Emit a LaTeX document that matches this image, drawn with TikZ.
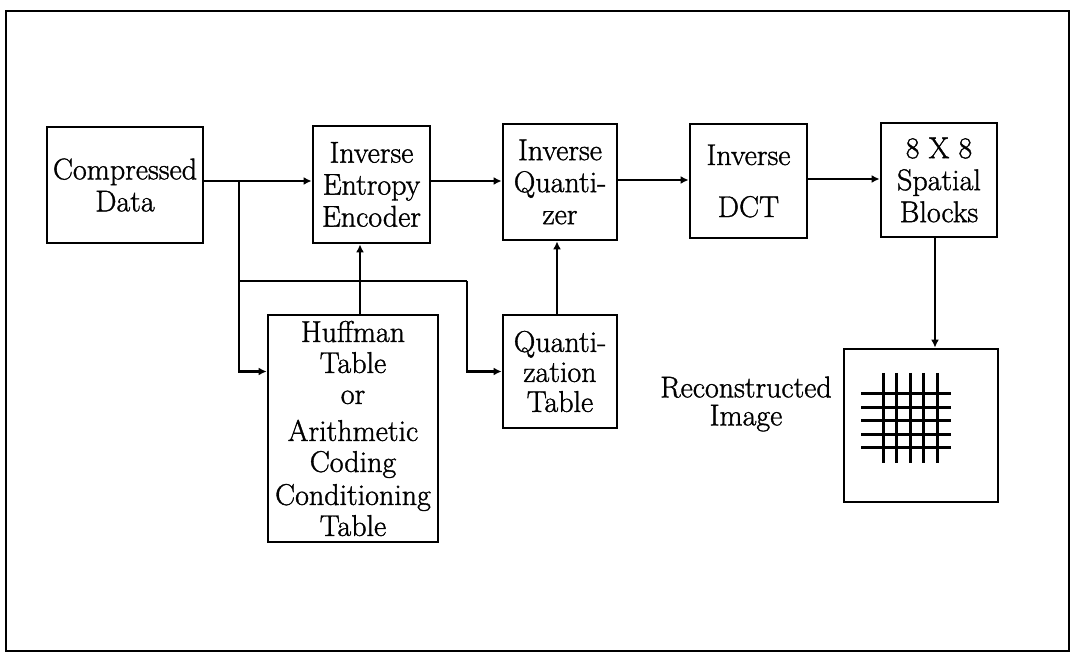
\documentclass[tikz,border=0pt]{standalone}
\usepackage{fontspec}
\usepackage{amsmath}
\usepackage{amssymb}
\usetikzlibrary{arrows.meta}
\newfontfamily\heavyrm[FakeBold=1.2]{Latin Modern Roman}

\tikzset{
  blk/.style={draw,line width=1.4pt,inner sep=0pt,align=center,
    font=\heavyrm\fontsize{15}{16}\selectfont},
  arr/.style={line width=1.2pt,-{Latex[length=4pt,width=4pt]}},
  wire/.style={line width=1.2pt}
}

\begin{document}
\begin{tikzpicture}[x=0.5pt,y=-0.5pt]
    \useasboundingbox (0,0) rectangle (1072,657);
    \draw[line width=1.4pt] (6,11) rectangle (1069,651);

    \node[blk,minimum width=78pt,minimum height=58pt] (cdata) at (125,185) {Compressed\\Data};
    \node[blk,minimum width=58.5pt,minimum height=58.5pt] (ient) at (371.5,184.5) {Inverse\\Entropy\\Encoder};
    \node[blk,minimum width=57pt,minimum height=58pt] (iquant) at (560,182) {Inverse\\Quanti-\\zer};
    \node[blk,minimum width=58.5pt,minimum height=57pt] (idct) at (748.5,181) {Inverse\\[10pt]DCT};
    \node[blk,minimum width=58pt,minimum height=57pt] (spat) at (939,180) {8 X 8\\Spatial\\Blocks};
    \node[blk,minimum width=85pt,minimum height=113.5pt,font=\heavyrm\fontsize{15}{15.5}\selectfont] (huff) at (353,428.5)
        {Huffman\\Table\\or\\[3pt]Arithmetic\\Coding\\[1pt]Conditioning\\Table};
    \node[blk,minimum width=57pt,minimum height=56.5pt,font=\heavyrm\fontsize{15}{15}\selectfont] (qtab) at (560,371.5) {Quanti-\\zation\\Table};
    \node[blk,minimum width=77pt,minimum height=76.5pt] (recon) at (921,425.5) {};
    \node[align=center,font=\heavyrm\fontsize{15}{14}\selectfont] (rlabel) at (746,404) {Reconstructed\\Image};

    % the 8x8 grid
    \foreach \i in {0,...,4} {
        \draw[line width=1.5pt] (883+13.5*\i,373) -- (883+13.5*\i,463);
        \draw[line width=1.5pt] (861,394+13.5*\i) -- (951,394+13.5*\i);
    }

    \coordinate (j1) at (239,181);
    \coordinate (j2) at (239,281);
    \coordinate (bend) at (467,281);

    \draw[arr] (cdata.east |- j1) -- (ient.west |- j1);
    \draw[arr] (j1) |- (huff.west |- qtab.west);
    \draw[wire] (j2) -- (bend);
    \draw[arr] (bend) |- (qtab.west);
    \draw[arr] ([xshift=3.5pt]huff.north) -- ([xshift=3.5pt]huff.north |- ient.south);
    \draw[arr] (ient.east |- j1) -- (iquant.west |- j1);
    \draw[arr] ([yshift=1pt]iquant.east) -- ([yshift=1pt]iquant.east -| idct.west);
    \draw[arr] ([yshift=1pt]idct.east) -- ([yshift=1pt]idct.east -| spat.west);
    \draw[arr] ([xshift=-1.5pt]qtab.north) -- ([xshift=-1.5pt]iquant.south);
    \draw[arr] ([xshift=-2pt]spat.south) -- ([xshift=-2pt]spat.south |- recon.north);
\end{tikzpicture}
\end{document}
